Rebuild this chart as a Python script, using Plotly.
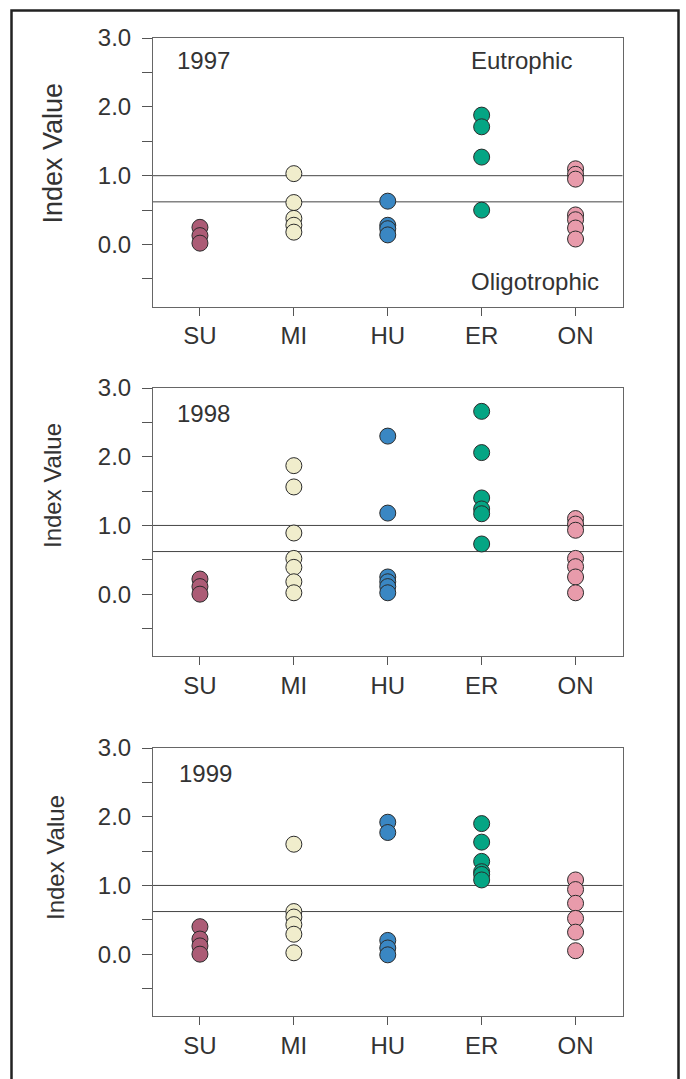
import plotly.graph_objects as go

W, H = 686, 1079

lakes = ["SU", "MI", "HU", "ER", "ON"]
colors = ["#ac5c76", "#f0edcc", "#3a87c3", "#05a584", "#e89bab"]

SU_1997 = [0.25, 0.13, 0.02]
MI_1997 = [1.03, 0.61, 0.38, 0.28, 0.18]
HU_1997 = [0.63, 0.28, 0.23, 0.14]
ER_1997 = [1.88, 1.71, 1.27, 0.50]
ON_1997 = [1.10, 1.02, 0.95, 0.43, 0.36, 0.24, 0.08]

SU_1998 = [0.22, 0.11, 0.0]
MI_1998 = [1.87, 1.56, 0.89, 0.52, 0.39, 0.18, 0.02]
HU_1998 = [2.30, 1.18, 0.25, 0.18, 0.11, 0.02]
ER_1998 = [2.66, 2.06, 1.40, 1.24, 1.17, 0.73]
ON_1998 = [1.10, 1.02, 0.93, 0.52, 0.40, 0.25, 0.02]

SU_1999 = [0.40, 0.22, 0.12, 0.0]
MI_1999 = [1.60, 0.62, 0.54, 0.43, 0.29, 0.02]
HU_1999 = [1.92, 1.77, 0.20, 0.09, -0.01]
ER_1999 = [1.90, 1.63, 1.35, 1.20, 1.16, 1.08]
ON_1999 = [1.08, 0.94, 0.74, 0.52, 0.32, 0.05]

years = ["1997", "1998", "1999"]
year_data = [
    [SU_1997, MI_1997, HU_1997, ER_1997, ON_1997],
    [SU_1998, MI_1998, HU_1998, ER_1998, ON_1998],
    [SU_1999, MI_1999, HU_1999, ER_1999, ON_1999],
]

eutrophic_line = 1.0
oligotrophic_line = 0.62

y_tickvals = [-0.5, 0.0, 0.5, 1.0, 1.5, 2.0, 2.5, 3.0]
y_ticktext = ["", "0.0", "", "1.0", "", "2.0", "", "3.0"]

FONT = "Liberation Sans, Arial, sans-serif"
TXT = "#333333"

# panel pixel boxes (top, bottom)
panels = [(38, 306.5), (388, 656), (748, 1016)]
x_left, x_right = 153, 622.5
title_centers = [(53, 153.5, 27), (53, 486, 24), (55, 858, 24)]
year_pos = [(175, 60), (175, 413), (177, 773)]

fig = go.Figure()
layout = dict(
    width=W, height=H, margin=dict(l=0, r=0, t=0, b=0, pad=0, autoexpand=False),
    paper_bgcolor="white", plot_bgcolor="white",
    showlegend=False, font=dict(family=FONT, color=TXT),
)

shapes = []
annotations = []

for i, (yr, data) in enumerate(zip(years, year_data)):
    sfx = "" if i == 0 else str(i + 1)
    xa, ya = "x" + sfx, "y" + sfx
    for lake, vals, col in zip(lakes, data, colors):
        for v in vals:
            fig.add_trace(go.Scatter(
                x=[lake], y=[v], xaxis=xa, yaxis=ya, mode="markers",
                marker=dict(size=16, color=col, line=dict(color="#2b2b2b", width=1)),
                hoverinfo="skip",
            ))
    top, bot = panels[i]
    layout["xaxis" + sfx] = dict(
        domain=[x_left / W, x_right / W], anchor=ya,
        type="category", categoryorder="array", categoryarray=lakes,
        range=[-0.5, 4.5], showline=True, linecolor="#666666", linewidth=1, mirror=True,
        ticks="outside", ticklen=8, tickcolor="#555555", tickwidth=1,
        tickfont=dict(size=24, color=TXT, family=FONT), ticklabelstandoff=0,
        showgrid=False, zeroline=False, fixedrange=True, automargin=False,
    )
    layout["yaxis" + sfx] = dict(
        domain=[1 - bot / H, 1 - top / H], anchor=xa,
        range=[-0.9, 3.0], tickvals=y_tickvals, ticktext=y_ticktext,
        showline=True, linecolor="#666666", linewidth=1, mirror=True,
        ticks="outside", ticklen=10, tickcolor="#555555", tickwidth=1,
        tickfont=dict(size=24, color=TXT, family=FONT), ticklabelstandoff=6,
        showgrid=False, zeroline=False, fixedrange=True, automargin=False,
    )
    for lv in (eutrophic_line, oligotrophic_line):
        shapes.append(dict(type="line", xref=xa + " domain", yref=ya,
                           x0=0, x1=1, y0=lv, y1=lv,
                           line=dict(color="#444444", width=1), layer="below"))
    tx, ty, ts = title_centers[i]
    annotations.append(dict(text="Index Value", xref="paper", yref="paper",
                            x=tx / W, y=1 - ty / H, textangle=-90, showarrow=False,
                            xanchor="center", yanchor="middle",
                            font=dict(size=ts, color=TXT, family=FONT)))
    yx, yy = year_pos[i]
    annotations.append(dict(text=yr, xref="paper", yref="paper",
                            x=yx / W, y=1 - yy / H, showarrow=False,
                            xanchor="left", yanchor="middle",
                            font=dict(size=24, color=TXT, family=FONT)))

annotations.append(dict(text="Eutrophic", xref="paper", yref="paper",
                        x=469 / W, y=1 - 60 / H, showarrow=False,
                        xanchor="left", yanchor="middle",
                        font=dict(size=24, color=TXT, family=FONT)))
annotations.append(dict(text="Oligotrophic", xref="paper", yref="paper",
                        x=469 / W, y=1 - 282 / H, showarrow=False,
                        xanchor="left", yanchor="middle",
                        font=dict(size=24, color=TXT, family=FONT)))

# outer frame
shapes.append(dict(type="rect", xref="paper", yref="paper",
                   x0=11.5 / W, x1=678.5 / W, y0=-0.02, y1=1 - 10.5 / H,
                   line=dict(color="#222222", width=2.5), fillcolor="rgba(0,0,0,0)"))

layout["shapes"] = shapes
layout["annotations"] = annotations
fig.update_layout(**layout)

post = (
    "document.documentElement.style.margin='0';"
    "document.body.style.margin='0';document.body.style.padding='0';"
    "var d=document.getElementById('{plot_id}');"
    "d.style.position='absolute';d.style.left='0px';d.style.top='0px';"
)
fig.write_html("out.html", post_script=post, config={"displayModeBar": False})
